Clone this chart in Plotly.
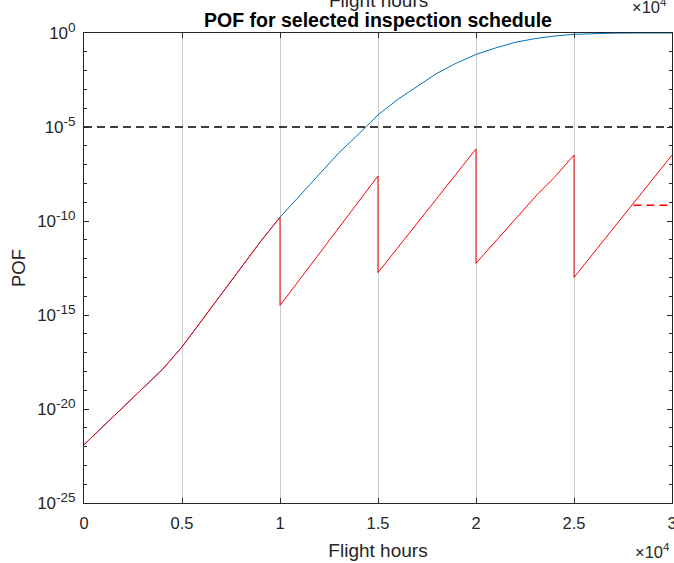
import plotly.graph_objects as go

# ---- data ----
hours_common = [0, 2000, 4000, 5000, 6000, 7000, 8000, 9000, 10000]
pof_common = [1.26e-22, 1.26e-20, 1.26e-18, 2.0e-17, 5.0e-16, 1.26e-14, 3.16e-13, 7.9e-12, 1.58e-10]

hours_no_insp = [11000, 12000, 13000, 14000, 15000, 16000, 17000, 18000, 19000, 20000,
                 21000, 22000, 23000, 24000, 25000, 26000, 27000, 28000, 29000, 30000]
pof_no_insp = [2.2e-9, 3.1e-8, 4.2e-7, 4.1e-6, 4.4e-5, 2.9e-4, 1.5e-3, 7.1e-3, 2.5e-2, 7.2e-2,
               0.16, 0.32, 0.50, 0.69, 0.85, 0.944, 0.982, 0.995, 0.999, 1.0]

hours_insp = [10000, 12500, 15000, 15000, 17500, 20000, 20000, 21400, 23100, 24000, 25000,
              25000, 27500, 30000]
pof_insp = [3.2e-15, 8.9e-12, 2.5e-8, 1.8e-13, 3.5e-10, 6.8e-7, 5.6e-13, 2.4e-11, 2.4e-9,
            2.1e-8, 3.2e-7, 1.0e-13, 1.8e-10, 3.2e-7]

threshold_pof = 1e-5
limit_hours = [28030, 30000]
limit_pof = [6.8e-10, 6.8e-10]

x_tickvals = [0, 5000, 10000, 15000, 20000, 25000, 30000]
x_ticktext = ["0", "0.5", "1", "1.5", "2", "2.5", "3"]
y_tickvals = [1e0, 1e-5, 1e-10, 1e-15, 1e-20, 1e-25]
y_exponents = ["0", "-5", "-10", "-15", "-20", "-25"]
y_minor = [10.0 ** (-k) for k in range(1, 25) if k % 5 != 0]

FONT = "Liberation Sans, Arial, Helvetica, sans-serif"
TXT = "#262626"

y_ticktext = ['10<sup><span style="font-size:13.5px">%s</span></sup>' % e for e in y_exponents]

fig = go.Figure()
fig.add_trace(go.Scatter(x=hours_common + hours_no_insp, y=pof_common + pof_no_insp,
                         mode="lines", line=dict(color="#0072BD", width=1), showlegend=False))
fig.add_trace(go.Scatter(x=[0, 30000], y=[threshold_pof, threshold_pof], mode="lines",
                         line=dict(color="black", width=1.5, dash="8px,5px"), showlegend=False))
fig.add_trace(go.Scatter(x=hours_common + hours_insp, y=pof_common + pof_insp,
                         mode="lines", line=dict(color="#FF0000", width=1), showlegend=False))
fig.add_trace(go.Scatter(x=limit_hours, y=limit_pof, mode="lines",
                         line=dict(color="#FF0000", width=1.5, dash="8px,5px"), showlegend=False))

fig.update_layout(
    width=674, height=563,
    margin=dict(l=84, r=2, t=33, b=60, autoexpand=False),
    paper_bgcolor="white", plot_bgcolor="white",
    font=dict(family=FONT, color=TXT, size=16),
    title=dict(text="<b>POF for selected inspection schedule</b>", x=0.5, xref="paper",
               y=1 - 20 / 563, yanchor="middle", font=dict(size=19.5, color="black", family=FONT)),
)
fig.update_xaxes(
    automargin=False,
    range=[0, 30000], tickmode="array", tickvals=x_tickvals, ticktext=x_ticktext,
    showline=True, linecolor=TXT, linewidth=1, mirror="ticks",
    ticks="inside", ticklen=5, tickcolor=TXT, ticklabeloverflow="allow",
    ticklabelstandoff=5,
    showgrid=True, gridcolor="#cccccc", gridwidth=1, zeroline=False,
    title=dict(text="Flight hours", font=dict(size=19), standoff=12),
    tickfont=dict(size=16.5),
)
fig.update_yaxes(
    automargin=False,
    type="log", range=[-25, 0], tickmode="array", tickvals=y_tickvals, ticktext=y_ticktext,
    showline=True, linecolor=TXT, linewidth=1, mirror="allticks",
    ticks="inside", ticklen=5, tickcolor=TXT, ticklabeloverflow="allow",
    ticklabelstandoff=4,
    minor=dict(tickmode="array", tickvals=y_minor, ticks="inside", ticklen=3, tickcolor=TXT,
               showgrid=False),
    showgrid=False, zeroline=False,
    title=dict(text="POF", font=dict(size=18.5), standoff=6),
    tickfont=dict(size=17),
)
# exponent labels and the clipped text of the axes stacked above
fig.add_annotation(text="\u00d710<sup>4</sup>", xref="paper", yref="paper", x=1.0,
                   y=(503 - 551) / 470, xanchor="right", yanchor="middle", showarrow=False,
                   font=dict(size=16.5, color=TXT))
fig.add_annotation(text="Flight hours", xref="paper", yref="paper", x=0.5, y=1 + 33 / 470,
                   xanchor="center", yanchor="middle", showarrow=False, font=dict(size=19, color=TXT))
fig.add_annotation(text="\u00d710<sup>4</sup>", xref="paper", yref="paper", x=(630 - 84) / 588,
                   y=1 + 27 / 470, xanchor="left", yanchor="middle", showarrow=False,
                   font=dict(size=16.5, color=TXT))

fig.write_html("out.html", config={"displayModeBar": False},
               post_script="document.body.style.margin='0';document.body.style.overflow='hidden';")
